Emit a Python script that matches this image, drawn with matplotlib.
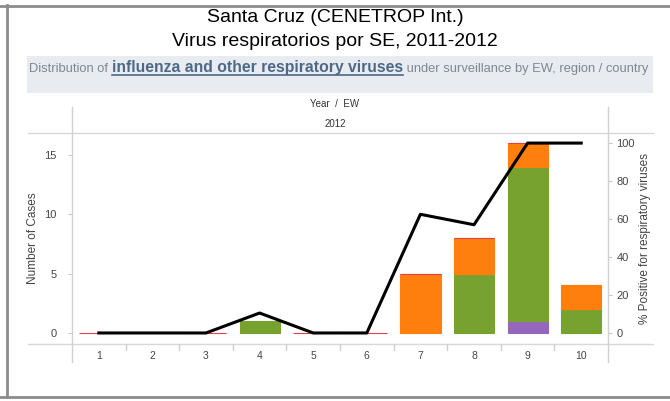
import numpy as np
import matplotlib
matplotlib.use("Agg")
import matplotlib.pyplot as plt
from matplotlib.lines import Line2D
from matplotlib.patches import Rectangle

plt.rcParams['font.family'] = ['Liberation Sans', 'DejaVu Sans']

# data
weeks = [1, 2, 3, 4, 5, 6, 7, 8, 9, 10]
nan = np.nan
purple = [nan, nan, nan, nan, nan, nan, nan, nan, 1, nan]
green = [nan, nan, nan, 1, nan, nan, nan, 5, 13, 2]
yellow = [nan, nan, nan, nan, nan, nan, 0, 0, nan, 0]
orange = [nan, nan, nan, nan, nan, nan, 5, 3, 2, 2]
red = [0, nan, 0, nan, 0, 0, 0, 0, 0, nan]
pct_pos = [0, 0, 0, 10.5, 0, 0, 62.5, 57, 100, 100]

series = [(purple, '#9467bd'), (green, '#78a22f'), (yellow, '#f0d020'),
          (orange, '#ff7f0e'), (red, '#e0404a')]

W, H = 670, 401
fig = plt.figure(figsize=(W / 100, H / 100), dpi=100)

def fx(px):
    return px / W

def fy(py):
    return 1 - py / H

# outer frame
fig.add_artist(Line2D([0, 1], [fy(5.5)] * 2, color='#8c8c8c', lw=2))
fig.add_artist(Line2D([0, 1], [fy(397)] * 2, color='#8c8c8c', lw=2))
fig.add_artist(Line2D([fx(7)] * 2, [fy(5), fy(397)], color='#8c8c8c', lw=2))

fig.text(0.5, fy(17), 'Santa Cruz (CENETROP Int.)', ha='center', va='center', fontsize=14)
fig.text(0.5, fy(41), 'Virus respiratorios por SE, 2011-2012', ha='center', va='center', fontsize=14)

# header band
fig.add_artist(Rectangle((fx(27), fy(93)), fx(653) - fx(27), fy(56) - fy(93),
                         color='#e8ebf0', lw=0, transform=fig.transFigure))
renderer = fig.canvas.get_renderer()
x0 = fx(29)
parts = [('Distribution of ', '#7f8790', 'normal', 9.3),
         ('influenza and other respiratory viruses', '#4d6987', 'bold', 11.3),
         (' under surveillance by EW, region / country', '#7f8790', 'normal', 9.3)]
for txt, col, wt, fs in parts:
    t = fig.text(x0, fy(72), txt, ha='left', va='baseline', color=col,
                 fontweight=wt, fontsize=fs)
    bb = t.get_window_extent(renderer)
    if wt == 'bold':
        fig.add_artist(Line2D([bb.x0 / W, bb.x1 / W], [fy(75)] * 2, color=col, lw=1.2))
    x0 = bb.x1 / W

fig.text(0.5, fy(104), 'Year  /  EW', ha='center', va='center', fontsize=7, color='#333333')
fig.text(0.5, fy(124), '2012', ha='center', va='center', fontsize=7, color='#333333')

# plot area
ax = fig.add_axes([fx(72), fy(344), fx(608) - fx(72), fy(133) - fy(344)])
ax2 = ax.twinx()
ax.set_zorder(ax2.get_zorder() + 1)
ax.patch.set_visible(False)

x = np.array(weeks)
bottom = np.zeros(len(weeks))
for vals, col in series:
    v = np.array(vals, dtype=float)
    mask = ~np.isnan(v)
    ax.bar(x[mask], v[mask], 0.75, bottom=bottom[mask], color=col,
           edgecolor=col, linewidth=0.8)
    bottom[mask] += v[mask]

ax.set_xlim(0.5, 10.5)
ax.set_ylim(-0.93, 16.85)
ax2.set_ylim(-0.93 * 6.25, 16.85 * 6.25)
ax.plot(x, np.array(pct_pos) / 6.25, color='black', lw=2.2, zorder=5)

for a in (ax, ax2):
    for s in a.spines.values():
        s.set_visible(False)
ax.set_xticks(weeks)
ax.set_xticklabels([str(w) for w in weeks])
ax.tick_params(axis='x', length=0, labelsize=7.5, labelcolor='#444444', pad=5)
ax.set_yticks([0, 5, 10, 15])
ax.tick_params(axis='y', length=3, color='#c8c8c8', labelsize=8, labelcolor='#444444', pad=8)
ax2.set_yticks([0, 20, 40, 60, 80, 100])
ax2.tick_params(axis='y', length=3, color='#c8c8c8', labelsize=8, labelcolor='#444444', pad=3)
ax.set_ylabel('Number of Cases', fontsize=8.5, color='#444444', labelpad=4)
ax2.set_ylabel('% Positive for respiratory viruses', fontsize=8.5, color='#444444', labelpad=3)

# table-like rules
for py in (133, 344):
    fig.add_artist(Line2D([fx(28), fx(653)], [fy(py)] * 2, color='#d8d8d8', lw=1))
for px in (72, 608):
    fig.add_artist(Line2D([fx(px)] * 2, [fy(107), fy(362)], color='#d0d0d0', lw=1))
for b in np.arange(1.5, 10.5, 1.0):
    px = 72 + (b - 0.5) * (608 - 72) / 10
    fig.add_artist(Line2D([fx(px)] * 2, [fy(344), fy(350)], color='#d0d0d0', lw=1))

fig.savefig('out.png', dpi=100)
